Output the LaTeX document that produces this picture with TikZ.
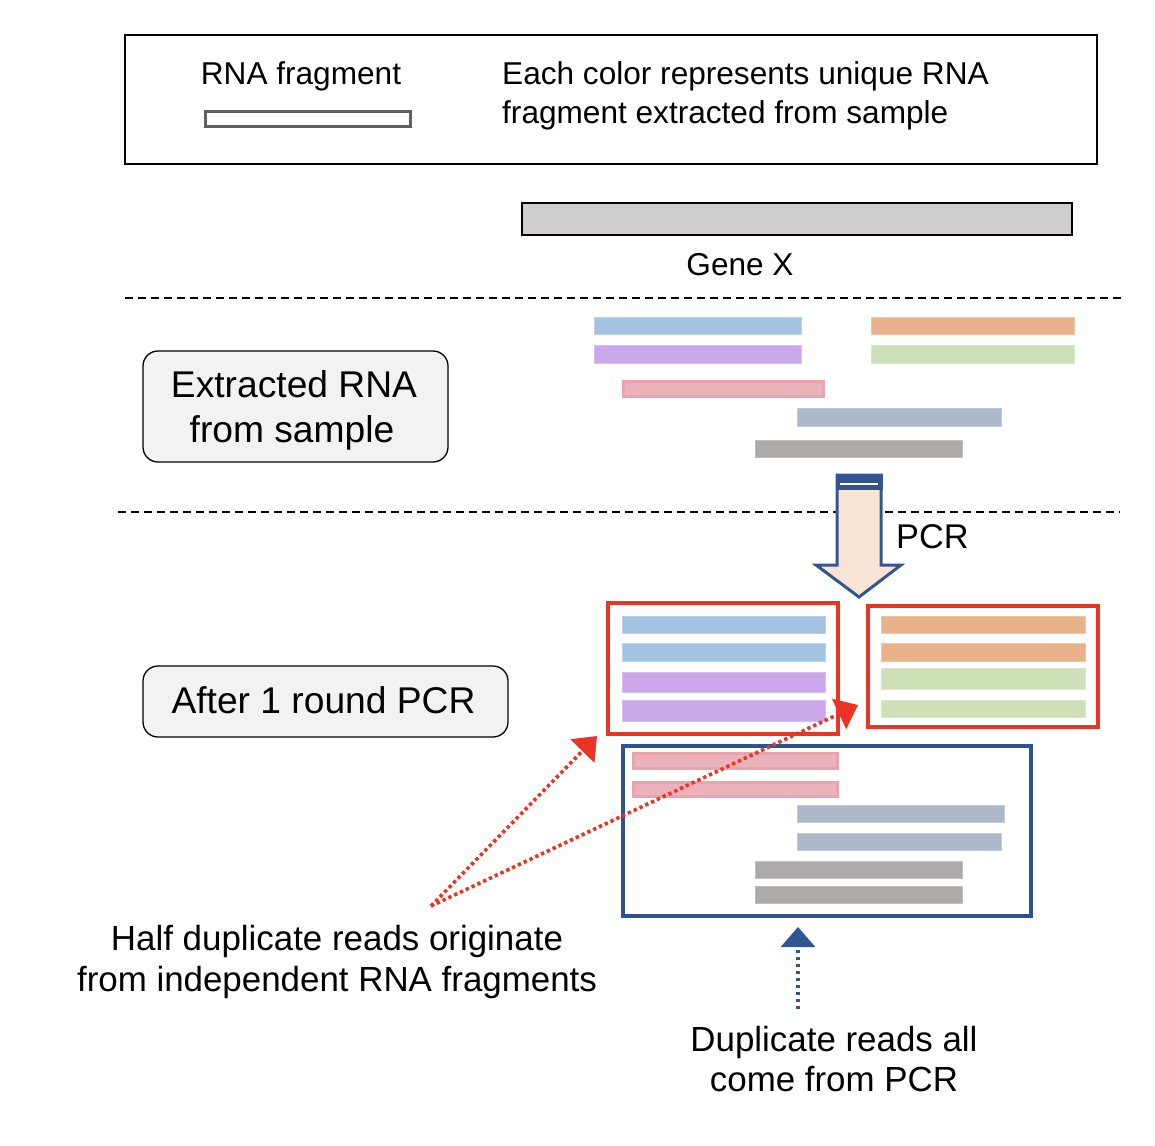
\documentclass[tikz,border=0pt]{standalone}
\usepackage{fontspec}
\setmainfont{Liberation Sans}
\usetikzlibrary{arrows.meta,fit}
\definecolor{myred}{RGB}{234,53,38}
\definecolor{myblue}{RGB}{47,82,143}
\definecolor{arrowblue}{RGB}{52,84,145}
\definecolor{arrowfill}{RGB}{248,229,214}
\definecolor{boxgray}{RGB}{242,242,242}
\definecolor{genegray}{RGB}{208,206,206}
\definecolor{legendgray}{RGB}{96,96,96}
\definecolor{cblue}{RGB}{164,194,226}
\definecolor{cpurple}{RGB}{203,167,236}
\definecolor{corange}{RGB}{234,178,138}
\definecolor{cgreen}{RGB}{205,224,184}
\definecolor{cpinkin}{RGB}{235,178,187}
\definecolor{cpinkout}{RGB}{232,163,172}
\definecolor{cslate}{RGB}{173,185,202}
\definecolor{cgray}{RGB}{173,169,169}
\newcommand{\rnabar}[5]{\filldraw[fill=#1, draw=#1!75!white, line width=0.8pt] (#2,#3) rectangle (#4,#5);}
\newcommand{\pinkbar}[4]{\filldraw[fill=cpinkin, draw=cpinkout, line width=3pt] ({#1+1.5},{#2+1.5}) rectangle ({#3-1.5},{#4-1.5});}
\tikzset{
  txt/.style={inner sep=0pt, anchor=base},
  legendtxt/.style={txt, font=\fontsize{31.6}{37}\selectfont},
  bigtxt/.style={txt, font=\fontsize{37.2}{44}\selectfont},
  midtxt/.style={txt, font=\fontsize{34.9}{41}\selectfont},
  labelbox/.style={draw=black, line width=1.3pt, fill=boxgray, rounded corners=15pt, inner sep=0pt},
  redbox/.style={draw=myred, line width=3.5pt, inner sep=0pt},
  bluebox/.style={draw=myblue, line width=3.5pt, inner sep=0pt},
  dashline/.style={draw=black, line width=1.3pt, dash pattern=on 8pt off 5pt},
  reddots/.style={draw=myred, line width=3.6pt, dash pattern=on 3.4pt off 3pt, -{Triangle[length=21pt,width=33pt]}},
  bluedots/.style={draw=arrowblue, line width=3.3pt, dash pattern=on 3.4pt off 3.6pt, -{Triangle[length=20pt,width=34pt]}},
}
\begin{document}
\begin{tikzpicture}[x=1pt,y=-1pt]
\useasboundingbox (0,0) rectangle (1155,1145);
% legend
\node[draw=black, line width=1.5pt, inner sep=0pt, fit={(125,35) (1097,164)}] (legend) {};
\node[legendtxt] (legendname) at (301,85) {RNA fragment};
\node[draw=legendgray, line width=3pt, fill=white, inner sep=0pt, fit={(205,111.5) (410,126.5)}] (legendbar) {};
\node[legendtxt, anchor=base west] (legendl1) at (502,85) {Each color represents unique RNA};
\node[legendtxt, anchor=base west] (legendl2) at (502,124) {fragment extracted from sample};
% gene
\node[draw=black, line width=1.3pt, fill=genegray, inner sep=0pt, fit={(522,203) (1072,235)}] (gene) {};
\node[legendtxt] (genelabel) at (740,275) {Gene X};
% separators
\draw[dashline] (125,298) -- (1125,298);
\draw[dashline] (118,512) -- (1120,512);
% extracted RNA
\node[labelbox, fit={(143,351) (448,462)}] (extracted) {};
\node[bigtxt] (extractedl1) at (294,397) {Extracted RNA};
\node[bigtxt] (extractedl2) at (292,442) {from sample};
\rnabar{cblue}{594}{317}{801}{334}
\rnabar{cpurple}{594}{345}{801}{363}
\rnabar{corange}{871}{317}{1074}{334}
\rnabar{cgreen}{871}{345}{1074}{363}
\pinkbar{622}{380}{825}{398}
\rnabar{cslate}{797}{408}{1001}{426}
\rnabar{cgray}{755}{440}{962}{457}
% PCR arrow
\filldraw[fill=arrowfill, draw=arrowblue, line width=3pt, line join=miter]
  (837,475) -- (881,475) -- (881,565) -- (901,565) -- (859,597) -- (816,565) -- (837,565) -- cycle;
\fill[arrowblue] (835.5,473.5) rectangle (882.5,490);
\draw[white, line width=1.2pt] (840,484) -- (878,484);
\node[txt, font=\fontsize{34.3}{40}\selectfont, anchor=base west] (pcr) at (896,548) {PCR};
% after PCR
\node[labelbox, fit={(143,666) (508,737)}] (after) {};
\node[bigtxt] (afterlabel) at (323.5,713) {After 1 round PCR};
\node[redbox, fit={(608,603) (838,734)}] (box1) {};
\rnabar{cblue}{622}{616}{825}{633}
\rnabar{cblue}{622}{643}{825}{661}
\rnabar{cpurple}{622}{672}{825}{692}
\rnabar{cpurple}{622}{700}{825}{721}
\node[redbox, fit={(868,606) (1098,727)}] (box2) {};
\rnabar{corange}{881}{616}{1085}{633}
\rnabar{corange}{881}{643}{1085}{661}
\rnabar{cgreen}{881}{668}{1085}{689}
\rnabar{cgreen}{881}{700}{1085}{717}
\node[bluebox, fit={(623,746) (1031,916)}] (box3) {};
\pinkbar{632}{752}{839}{770}
\pinkbar{632}{781}{839}{798}
\rnabar{cslate}{797}{805}{1004}{822}
\rnabar{cslate}{797}{833}{1001}{850}
\rnabar{cgray}{755}{861}{962}{878}
\rnabar{cgray}{755}{886}{962}{903}
% annotations
\node[midtxt] (halfl1) at (337,950) {Half duplicate reads originate};
\node[midtxt] (halfl2) at (337,991) {from independent RNA fragments};
\node[midtxt] (dupl1) at (834,1051) {Duplicate reads all};
\node[midtxt] (dupl2) at (834,1091) {come from PCR};
\coordinate (hstart) at (431,906);
\coordinate (tip1) at (597,736);
\coordinate (tip2) at (858,705);
\coordinate (dstart) at (798,1009);
\coordinate (dtip) at (798,927);
\draw[reddots] (hstart) -- (tip1);
\draw[reddots] (hstart) -- (tip2);
\draw[bluedots] (dstart) -- (dtip);
\end{tikzpicture}
\end{document}
